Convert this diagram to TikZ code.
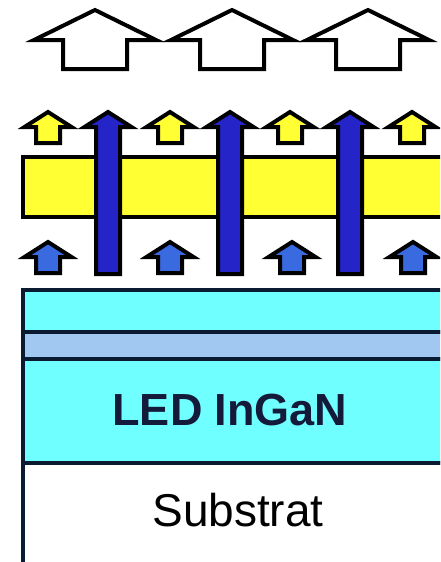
\documentclass[tikz,border=0pt]{standalone}
\usepackage{fontspec}
\setmainfont{Liberation Sans}
\definecolor{bandyellow}{HTML}{FFFF33}
\definecolor{talblue}{HTML}{2424C8}
\definecolor{smblue}{HTML}{3A6AE0}
\definecolor{cyanlayer}{HTML}{70FFFF}
\definecolor{lightlayer}{HTML}{A0C8F0}
\definecolor{navy}{HTML}{0A1A30}
\definecolor{textnavy}{HTML}{141A3A}
\tikzset{
  outl/.style={draw=black, line width=4pt, line join=miter},
  outarrow/.pic={\path[outl,fill=white] (0,0) -- (61,30) -- (32,30) -- (32,59) -- (-32,59) -- (-32,30) -- (-61,30) -- cycle;},
  yelarrow/.pic={\path[outl,fill=bandyellow] (0,0) -- (23.5,15) -- (12,15) -- (12,31) -- (-12,31) -- (-12,15) -- (-23.5,15) -- cycle;},
  bluearrow/.pic={\path[outl,fill=smblue] (0,0) -- (23.5,15) -- (12,15) -- (12,31) -- (-12,31) -- (-12,15) -- (-23.5,15) -- cycle;},
  tallarrow/.pic={\path[outl,fill=talblue] (0,0) -- (23.5,15) -- (12,15) -- (12,162) -- (-12,162) -- (-12,15) -- (-23.5,15) -- cycle;},
  layer/.style={draw=navy, line width=4pt},
  lbl/.style={font=\fontsize{46}{50}\selectfont, inner sep=0pt}
}
\begin{document}
\begin{tikzpicture}[x=1pt,y=-1pt]
\useasboundingbox (0,0) rectangle (440,562);
\fill[white] (0,0) rectangle (440,562);
\clip (0,0) rectangle (440,562);
% top outline arrows
\foreach \c in {95,232,368} \pic at (\c,10) {outarrow};
% yellow band
\path[outl,fill=bandyellow] (23,157) rectangle (460,217);
% small yellow arrows
\foreach \c in {48,170,290,412} \pic at (\c,112) {yelarrow};
% small blue arrows
\foreach \c in {48,170,292,413} \pic at (\c,242) {bluearrow};
% tall blue arrows
\foreach \c in {108,230,350} \pic at (\c,112) {tallarrow};
% layers
\path[layer,fill=cyanlayer] (23,290) rectangle (460,332);
\path[layer,fill=lightlayer] (23,332) rectangle (460,359);
\path[layer,fill=cyanlayer] (23,359) rectangle (460,463);
\path[layer,fill=white] (23,463) rectangle (460,580);
\node[lbl,font=\fontsize{45}{50}\selectfont\bfseries,text=textnavy] (led) at (230,410) {LED InGaN};
\node[lbl,text=black] (sub) at (238,510) {Substrat};
\end{tikzpicture}
\end{document}
